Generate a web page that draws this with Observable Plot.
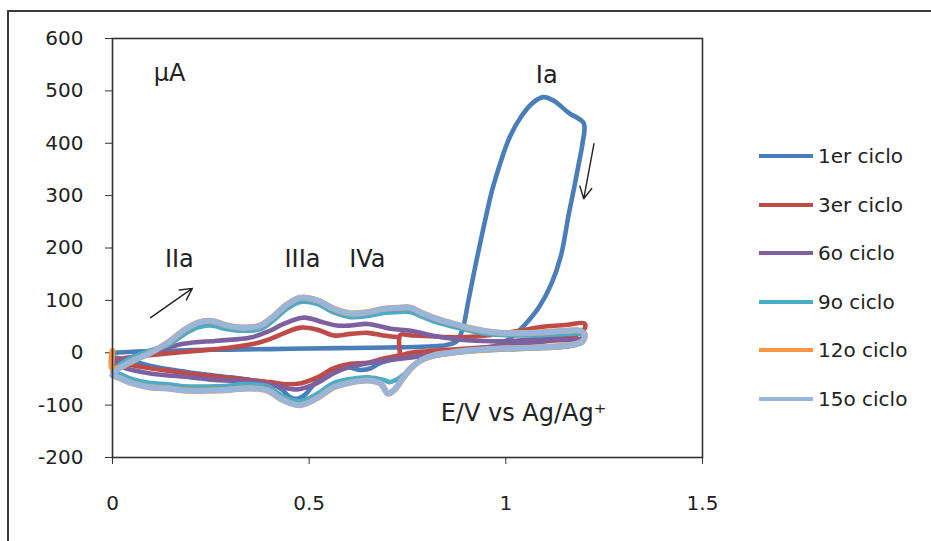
<!DOCTYPE html>
<html><head><meta charset="utf-8">
<script src="https://cdn.jsdelivr.net/npm/d3@7"></script>
<script src="https://cdn.jsdelivr.net/npm/@observablehq/plot@0.6"></script>
<style>
body{margin:0;background:#fff;}
#wrap{position:relative;width:931px;height:541px;overflow:hidden;font-family:"DejaVu Sans",sans-serif;background:#fff;}
#wrap svg{position:absolute;left:0;top:0;}
#outer{position:absolute;left:7px;top:10px;width:960px;height:600px;border-left:2.5px solid #3a3a3a;border-top:2.5px solid #3a3a3a;pointer-events:none;}
.item{position:absolute;left:759px;height:24px;display:flex;align-items:center;white-space:nowrap;}
.sw{width:54px;height:4px;margin-right:5px;}
.lab{font-size:20px;color:#222;}
</style></head><body>
<div id="wrap"></div>
<script>
// ---- data ----
const seriesNames = ["1er ciclo","3er ciclo","6o ciclo","9o ciclo","12o ciclo","15o ciclo"];
const seriesColors = ["#4A7EBB","#BE4B48","#7D60A0","#4BACC6","#F79646","#98B6DB"];
const xTicks = [0, 0.5, 1, 1.5];
const xTickLabels = ["0", "0.5", "1", "1.5"];
const yTicks = [-200, -100, 0, 100, 200, 300, 400, 500, 600];

// 1er ciclo
const E1 = [0,0.05,0.1,0.2,0.3,0.4,0.5,0.6,0.7,0.8,0.85,0.875,0.89,0.905,0.925,0.945,0.965,0.985,1.01,1.04,1.07,1.095,1.12,1.16,1.198,
            1.195,1.187,1.175,1.16,1.14,1.115,1.085,1.05,1.015,0.985,0.95,0.9,0.84,0.78,0.72,0.68,0.655,0.63,0.6,0.57,0.54,0.51,0.49,0.47,0.45,0.43,0.4,0.35,0.3,0.2,0.1,0.05,0];
const I1 = [0,2,3,5,6,7,8,9,10,12,15,22,45,100,175,245,310,360,412,452,478,488,482,458,438,
            400,367,320,265,185,130,88,55,30,16,8,3,-2,-6,-12,-20,-30,-33,-28,-33,-42,-62,-80,-88,-84,-70,-58,-52,-47,-38,-26,-16,-8];
// 3er ciclo
const E2 = [0.732,0.732,0.76,0.8,0.85,0.9,0.95,1.0,1.05,1.1,1.15,1.2,
            1.2,1.18,1.15,1.1,1.0,0.9,0.8,0.758,0.732,0.69,0.648,0.605,0.562,0.521,0.48,0.44,0.4,0.35,0.3,0.2,0.1,0.05,0,
            0.05,0.1,0.22,0.3,0.36,0.4,0.435,0.478,0.521,0.562,0.605,0.648,0.689,0.725];
const I2 = [-6,34,33,32,30,30,33,38,44,50,53,56,
            46,34,28,22,14,8,3,0,-5,-11,-19,-21,-30,-47,-58,-60,-56,-52,-48,-40,-30,-24,-16,
            -8,-4,4,10,17,26,37,48,44,33,36,38,33,30];
// 6o ciclo
const E3 = [0,0.05,0.097,0.18,0.267,0.351,0.4,0.435,0.486,0.536,0.57,0.605,0.648,0.707,0.758,0.8,0.85,0.9,1.0,1.1,1.2,
            1.2,1.1,1.0,0.9,0.83,0.76,0.69,0.6,0.56,0.52,0.47,0.42,0.35,0.26,0.2,0.1,0.05,0];
const I3 = [-20,-8,0,17,23,29,42,55,67,58,52,52,55,46,42,35,28,24,22,28,38,
            30,22,14,6,-2,-9,-15,-28,-40,-58,-70,-64,-55,-52,-47,-40,-33,-22];
// 9o ciclo
const E4 = [0,0.02,0.053,0.097,0.14,0.18,0.216,0.249,0.292,0.333,0.376,0.41,0.44,0.478,0.521,0.562,0.605,0.648,0.689,0.732,0.758,0.783,0.816,0.859,0.903,0.943,0.987,1.07,1.157,1.19,1.2,1.195,
            1.157,1.07,0.987,0.903,0.859,0.816,0.783,0.758,0.74,0.72,0.705,0.69,0.648,0.605,0.562,0.521,0.478,0.435,0.394,0.351,0.267,0.18,0.14,0.097,0.053,0.02,0];
const I4 = [-36,-22,-8,5,14,34,48,52,45,42,45,62,82,97,93,77,68,70,76,78,78,70,60,51,43,37,34,33,36,36,30,20,
            12,8,6,2,-2,-7,-15,-28,-42,-52,-56,-52,-47,-50,-58,-78,-92,-84,-64,-60,-64,-64,-60,-58,-51,-41,-36];
// 12o ciclo
const E5 = [0,0,0.02,0.053,0.097,0.14,0.18,0.216,0.249,0.292,0.333,0.376,0.41,0.44,0.478,0.521,0.562,0.605,0.648,0.689,0.732,0.758,0.783,0.816,0.859,0.903,0.943,0.987,1.07,1.157,1.19,1.2,1.195,
            1.157,1.07,0.987,0.903,0.859,0.816,0.783,0.758,0.74,0.715,0.7,0.682,0.648,0.605,0.562,0.521,0.478,0.435,0.394,0.351,0.267,0.18,0.14,0.097,0.053,0.02,0];
const I5 = [3,-30,-28,-15,0,19,42,57,61,52,48,52,70,90,105,100,84,75,77,84,86,86,77,67,57,48,42,38,38,42,42,34,22,
            14,10,8,4,0,-5,-15,-30,-47,-72,-78,-59,-53,-57,-66,-86,-100,-91,-72,-68,-72,-72,-68,-66,-59,-49,-43];
// 15o ciclo
const E6 = [0,0.02,0.053,0.097,0.14,0.18,0.216,0.249,0.292,0.333,0.376,0.41,0.44,0.478,0.521,0.562,0.605,0.648,0.689,0.732,0.758,0.783,0.816,0.859,0.903,0.943,0.987,1.07,1.157,1.19,1.2,1.195,
            1.157,1.07,0.987,0.903,0.859,0.816,0.783,0.758,0.74,0.715,0.7,0.682,0.648,0.605,0.562,0.521,0.478,0.435,0.394,0.351,0.267,0.18,0.14,0.097,0.053,0.02,0];
const I6 = [-43,-28,-15,0,19,42,57,61,52,48,52,70,90,105,100,84,75,77,84,86,86,77,67,57,48,42,38,38,42,42,34,22,
            14,10,8,4,0,-5,-15,-30,-47,-72,-78,-59,-53,-57,-66,-86,-100,-91,-72,-68,-72,-72,-68,-66,-59,-49,-43];

// annotations
const annoText = ["μA", "Ia", "IIa", "IIIa", "IVa", "E/V vs Ag/Ag⁺"];
const annoE = [0.145, 1.104, 0.170, 0.483, 0.648, 1.045];
const annoI = [533, 529, 178, 178, 178, -116];
// arrows
const arrowE1 = [0.097, 1.224];
const arrowI1 = [67, 399];
const arrowE2 = [0.203, 1.198];
const arrowI2 = [123, 294];

// ---- build ----
const allE = [E1,E2,E3,E4,E5,E6];
const allI = [I1,I2,I3,I4,I5,I6];
const widths = [4.6,4.6,4.6,4.6,6.2,5.6];
const lineMarks = seriesNames.map((name, k) => {
  const rows = allE[k].map((e, j) => ({E: e, I: allI[k][j], s: name}));
  return Plot.line(rows, {x: "E", y: "I", stroke: seriesColors[k], strokeWidth: widths[k],
    curve: "catmull-rom", strokeLinejoin: "round", strokeLinecap: "round"});
});
const annos = annoText.map((t, k) => ({t, E: annoE[k], I: annoI[k]}));
const arrows = arrowE1.map((e, k) => ({x1: e, y1: arrowI1[k], x2: arrowE2[k], y2: arrowI2[k]}));

const chart = Plot.plot({
  width: 931, height: 541,
  marginLeft: 112, marginRight: 229, marginTop: 38, marginBottom: 84,
  x: {domain: [0, 1.5]},
  y: {domain: [-200, 600]},
  style: {fontFamily: "DejaVu Sans", fontSize: "20px", color: "#222", background: "transparent"},
  marks: [
    Plot.axisY({ticks: yTicks, tickSize: 7, tickPadding: 22, tickFormat: d => String(d), label: null, stroke: "#333"}),
    Plot.axisX({ticks: xTicks, tickSize: 7, tickPadding: 31, tickFormat: d => xTickLabels[xTicks.indexOf(d)], label: null, stroke: "#333"}),
    ...lineMarks,
    Plot.frame({stroke: "#333", strokeWidth: 1.6}),
    Plot.text(annos, {x: "E", y: "I", text: "t", fontSize: 24, fill: "#222", textAnchor: "middle", lineAnchor: "middle"}),
    Plot.arrow(arrows, {x1: "x1", y1: "y1", x2: "x2", y2: "y2", stroke: "#222", strokeWidth: 1.4, headLength: 14, headAngle: 55})
  ]
});
const wrap = document.getElementById("wrap");
wrap.appendChild(chart);
const outer = document.createElement("div");
outer.id = "outer";
wrap.appendChild(outer);
seriesNames.forEach((name, k) => {
  const it = document.createElement("div");
  it.className = "item";
  it.style.top = (156 + k * 48.5 - 12) + "px";
  it.innerHTML = `<span class="sw" style="background:${seriesColors[k]}"></span><span class="lab">${name}</span>`;
  wrap.appendChild(it);
});
</script>
</body></html>
